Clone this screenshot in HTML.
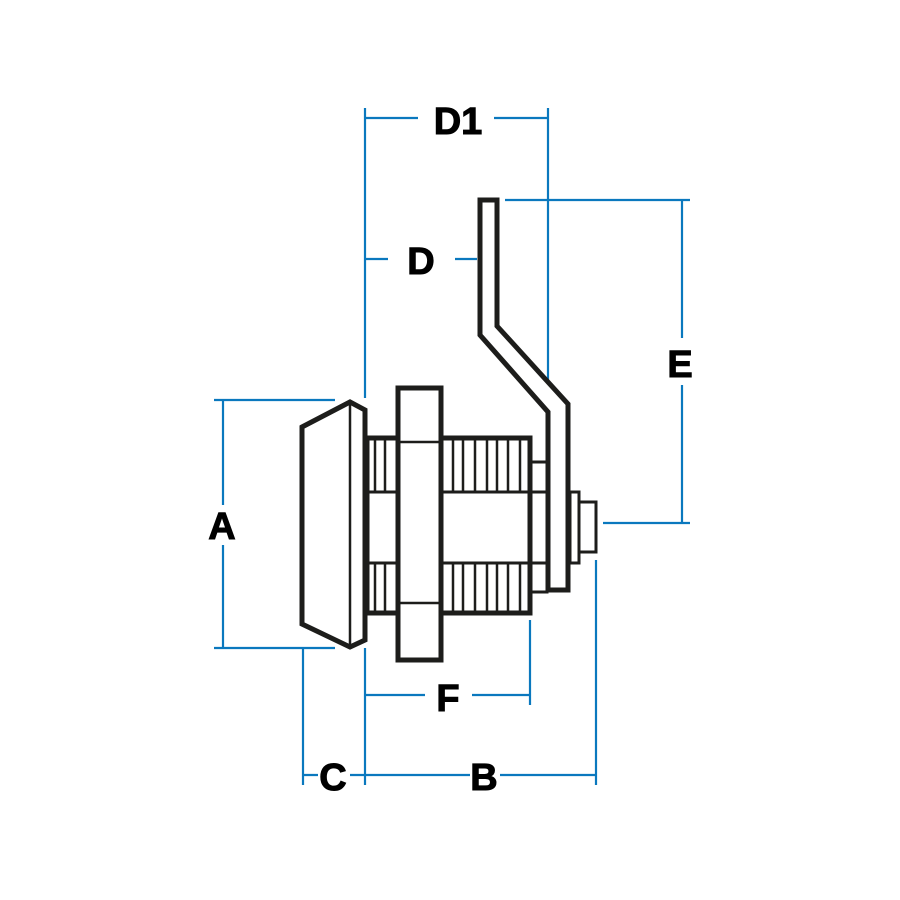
<!DOCTYPE html>
<html><head><style>html,body{margin:0;padding:0;background:#fff}svg{display:block}</style></head>
<body>
<svg width="900" height="900" viewBox="0 0 900 900" xmlns="http://www.w3.org/2000/svg">
<g stroke="#0a78be" stroke-width="2.2" fill="none">
<path d="M365 108V398M548 108V398M365 118H418M494 118H548M365 259H388M455 259H477"/>
<path d="M505 200H690M603 523H690M682 200V338M682 385V523"/>
<path d="M214 400H335M214 648H335M223 400V505M223 545V648"/>
<path d="M303 648V785M365 648V785M596 560V785M303 775H318M350 775H470M500 775H596"/>
<path d="M530 620V705M365 695H425M472 695H530"/>
</g>
<g fill="none" stroke="#1d1d1b" stroke-linejoin="miter">
<path d="M302 427L350 402L365 410V640L350 647L302 624Z" stroke-width="5"/>
<path d="M350 402V647" stroke-width="2.5"/>
<rect x="367" y="438" width="163" height="175" stroke-width="5"/>
<rect x="530" y="462" width="17" height="130" stroke-width="3"/>
<path d="M367 492H547M367 563H547" stroke-width="3"/>
<path d="M375 438V492M385 438V492M375 563V613M385 563V613M453 438V492M463 438V492M475 438V492M487 438V492M497 438V492M508 438V492M520 438V492M453 563V613M463 563V613M475 563V613M487 563V613M497 563V613M508 563V613M520 563V613" stroke-width="2.5"/>
<rect x="398" y="388" width="43" height="272" stroke-width="5" fill="#fff"/>
<path d="M398 442H441M398 603H441" stroke-width="2.5"/>
<path d="M480 200H497V326L568 404V590H548V412L480 335Z" stroke-width="5" fill="#fff"/>
<rect x="570" y="492" width="9" height="71" stroke-width="3" fill="#fff"/>
<rect x="579" y="502" width="17" height="50" stroke-width="3" fill="#fff"/>
</g>
<g font-family="Liberation Sans, sans-serif" font-weight="bold" font-size="38" fill="#000" text-anchor="middle" stroke="#000" stroke-width="1">
<text x="458" y="134">D1</text>
<text x="421" y="274">D</text>
<text x="680" y="377">E</text>
<text x="222" y="539">A</text>
<text x="333" y="790">C</text>
<text x="484" y="790">B</text>
<text x="448" y="711">F</text>
</g>
</svg>
</body></html>
